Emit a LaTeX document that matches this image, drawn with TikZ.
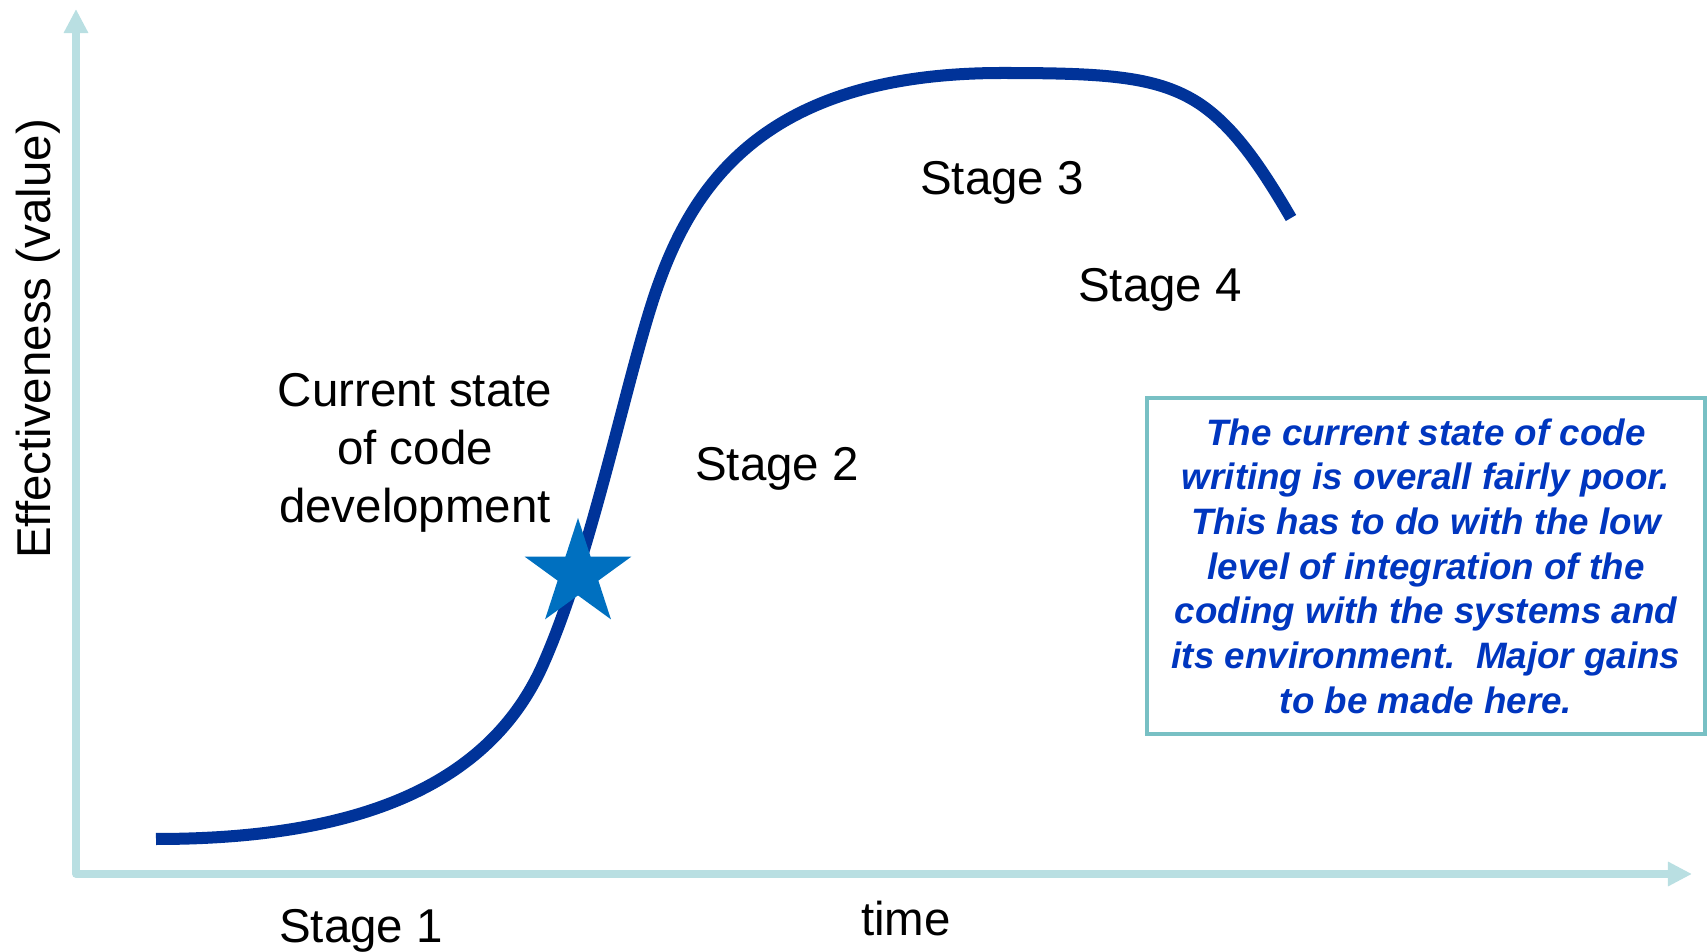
\documentclass[tikz,border=0pt]{standalone}
\usepackage{fontspec}
\setmainfont{Liberation Sans}
\usetikzlibrary{arrows.meta,shapes.geometric}
\definecolor{axisblue}{HTML}{B9DFE2}
\definecolor{curveblue}{HTML}{003399}
\definecolor{starblue}{HTML}{0070C0}
\definecolor{boxteal}{HTML}{78C0C4}
\definecolor{noteblue}{HTML}{0036BF}
\begin{document}
\begin{tikzpicture}[x=0.01cm,y=-0.01cm,
	lbl/.style={font=\fontsize{13.5}{16.4}\selectfont, align=center, inner sep=0pt},
	axisline/.style={axisblue, line width=0.075cm, line join=round, >={Triangle[width=0.23cm,length=0.24cm]}, <->}]
	\useasboundingbox (0,0) rectangle (1708,952);
	\coordinate (O) at (76,874);
	\coordinate (Ytop) at (76,9);
	\coordinate (Xend) at (1692,874);
	\draw[axisline] (Ytop) -- (O) -- (Xend);
	\draw[curveblue, line width=0.12cm] (156,839) .. controls (350,839) and (490,790) .. (545,660)
		.. controls (595,545) and (630,360) .. (660,280)
		.. controls (700,170) and (780,73) .. (1002,73)
		.. controls (1100,73) and (1150,76) .. (1190,98)
		.. controls (1230,120) and (1260,165) .. (1291,218);
	\node[star, star points=5, star point ratio=2.618, fill=starblue, inner sep=0pt, minimum size=1.12cm] (now) at (578,574) {};
	\node[lbl, rotate=90] (ylabel) at (38,339) {Effectiveness (value)};
	\node[lbl] (xlabel) at (906,919) {time};
	\node[lbl] (s1) at (361,931) {Stage 1};
	\node[lbl] (s2) at (777,469) {Stage 2};
	\node[lbl] (s3) at (1002,183) {Stage 3};
	\node[lbl] (s4) at (1160,290) {Stage 4};
	\node[lbl] (cur) at (415,453) {Current state\\of code\\development};
	\node[draw=boxteal, line width=0.04cm, minimum width=5.57cm, minimum height=3.35cm, text=noteblue, align=center,
		font=\fontsize{10.45}{12.7}\selectfont\bfseries\itshape] (note) at (1426,566)
		{The current state of code\\writing is overall fairly poor.\\This has to do with the low\\level of integration of the\\coding with the systems and\\its environment.\ \ Major gains\\to be made here.};
\end{tikzpicture}
\end{document}
